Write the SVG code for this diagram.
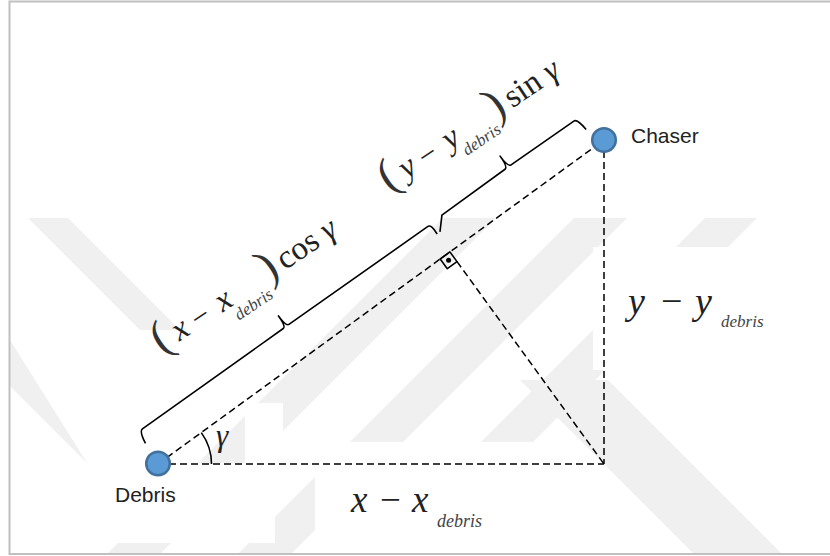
<svg xmlns="http://www.w3.org/2000/svg" width="830" height="556" viewBox="0 0 830 556">
<defs>
<style>
.dash{fill:none;stroke:#000;stroke-width:1.5;stroke-dasharray:7 4}
.solid{fill:none;stroke:#000;stroke-width:1.6;stroke-linejoin:round}
.node{fill:#5b9bd5;stroke:#41719c;stroke-width:2.5}
.lbl{font-family:"Liberation Sans",Arial,sans-serif;font-size:21px;fill:#222}
.mi{font-family:"Liberation Serif","Times New Roman",serif;font-style:italic;fill:#222}
.mo{font-family:"Liberation Serif","Times New Roman",serif;fill:#222}
.sub{font-family:"Liberation Serif","Times New Roman",serif;font-style:italic;fill:#444}
.paren{font-family:"Liberation Serif","Times New Roman",serif;font-size:47px;fill:#333}
</style>
<clipPath id="wmclip"><rect x="10" y="218" width="820" height="336"/></clipPath>
</defs>
<rect x="0" y="0" width="830" height="556" fill="#fff"/>
<g id="watermark" clip-path="url(#wmclip)" fill="#f0f0f0">
<polygon points="574,218 627,218 289,556 236,556"/>
<polygon points="705,218 757,218 419,556 367,556"/>
<polygon points="443,218 496,218 158,556 105,556"/>
<polygon points="520,380 608,380 784,556 696,556"/>
<polygon points="28,218 68,218 180,330 140,330"/>
<polygon points="10,340 10,386 133,509 87,463"/>
</g>
<g id="textboxes" fill="#fff">
<rect x="593" y="247" width="237" height="123"/>
<rect x="315" y="442" width="227" height="112"/>
<rect x="88" y="463" width="187" height="80"/>
<rect x="245" y="403" width="38" height="60"/>
</g>
<path d="M830,1.5 H9.5 V554 H830" fill="none" stroke="#c0c0c0" stroke-width="2"/>
<g id="connectors">
<line class="dash" x1="158" y1="464" x2="604" y2="140"/>
<line class="dash" x1="158" y1="464" x2="604" y2="464"/>
<line class="dash" x1="604" y1="140" x2="604" y2="464"/>
<line class="dash" x1="457" y1="261.6" x2="604" y2="464"/>
<polygon class="solid" points="440.2,259 449.9,251.9 457,261.6 447.3,268.7" fill="#fff"/>
<circle cx="448.6" cy="260.3" r="2.5" fill="#000"/>
<path class="solid" d="M211.5,464 A53.5,53.5 0 0 0 201.3,432.6"/>
<g transform="translate(158,464) rotate(-36)">
<path class="solid" d="M2,-24 Q4,-37.5 8,-37.5 L181,-36 Q184.5,-36 184.5,-49 Q184.5,-36 188,-36 L358,-33.5 Q362,-33.5 361,-22"/>
<path class="solid" d="M364.5,-22 Q371,-29 376,-34.5 L454,-34.5 Q457.7,-34.5 457.7,-48 Q457.7,-34.5 461.5,-34.5 L538,-33 Q542,-33 543,-19"/>
</g>
</g>
<g id="debris">
<circle class="node" cx="158" cy="463.5" r="11.8"/>
<text class="lbl" x="115" y="502">Debris</text>
</g>
<g id="chaser">
<circle class="node" cx="604" cy="140" r="11.8"/>
<text class="lbl" x="631" y="143">Chaser</text>
</g>
<g id="labels">
<text class="mi" x="216" y="446" font-size="31">γ</text>
<text class="mi" x="351" y="512" font-size="37">x</text>
<text class="mo" x="380" y="512" font-size="37">−</text>
<text class="mi" x="412" y="512" font-size="37">x</text>
<text class="sub" x="437" y="527" font-size="18">debris</text>
<text class="mi" x="628" y="314" font-size="38">y</text>
<text class="mo" x="661" y="314" font-size="38">−</text>
<text class="mi" x="695" y="314" font-size="38">y</text>
<text class="sub" x="721" y="327" font-size="17">debris</text>
<g transform="translate(181.7,331.7) rotate(-34)">
<text class="paren" x="-21" y="8" text-anchor="middle">(</text>
<text class="mi" x="0" y="7" font-size="33" text-anchor="middle">x</text>
<text class="mo" x="24" y="8" font-size="31" text-anchor="middle">−</text>
<text class="mi" x="52" y="7" font-size="33" text-anchor="middle">x</text>
<text class="sub" x="75" y="23" font-size="17" text-anchor="middle">debris</text>
<text class="paren" x="107" y="8" text-anchor="middle">)</text>
<text class="mo" x="120" y="7" font-size="33">cos <tspan class="mi">γ</tspan></text>
</g>
<g transform="translate(409,169.7) rotate(-34)">
<text class="paren" x="-21" y="8" text-anchor="middle">(</text>
<text class="mi" x="0" y="7" font-size="33" text-anchor="middle">y</text>
<text class="mo" x="24" y="8" font-size="31" text-anchor="middle">−</text>
<text class="mi" x="52" y="7" font-size="33" text-anchor="middle">y</text>
<text class="sub" x="77" y="21" font-size="17" text-anchor="middle">debris</text>
<text class="paren" x="107" y="8" text-anchor="middle">)</text>
<text class="mo" x="120" y="7" font-size="33">sin <tspan class="mi">γ</tspan></text>
</g>
</g>
</svg>
